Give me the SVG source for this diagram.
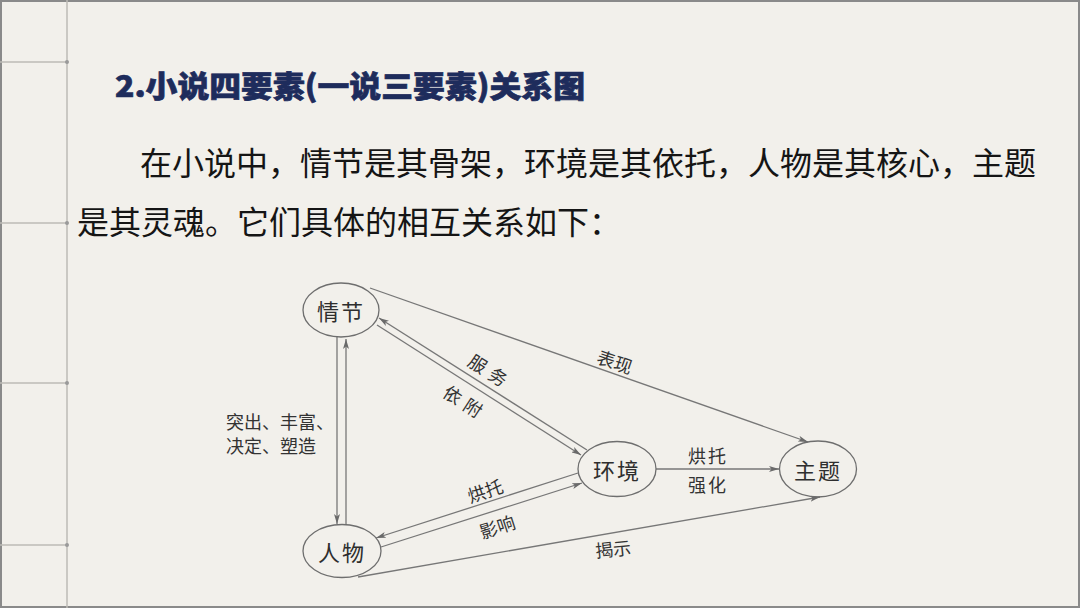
<svg xmlns="http://www.w3.org/2000/svg" width="1080" height="608" viewBox="0 0 1080 608">
<style>
.bg{fill:#f2f0eb}
.grid{stroke:#bdbbb6;stroke-width:1.5;fill:none}
.dot{fill:#9a9a9a}
.title{font-family:"Noto Sans CJK SC","Liberation Sans",sans-serif;font-weight:900;font-size:30px;fill:#1e2c5c;stroke:#1e2c5c;stroke-width:0.7}
.body{font-family:"Noto Sans CJK SC","Liberation Sans",sans-serif;font-size:32px;fill:#151515}
.node ellipse{fill:none;stroke:#6e6e6e;stroke-width:1.3}
.node text{font-family:"Noto Sans CJK SC",sans-serif;font-size:22px;fill:#2e2e2e;text-anchor:middle;dominant-baseline:central;letter-spacing:2px}
.conn line{stroke:#777;stroke-width:1.3;fill:none;marker-end:url(#ah)}
.lbl{font-family:"Noto Sans CJK SC",sans-serif;font-size:18px;fill:#333;text-anchor:middle;dominant-baseline:central}
</style>
<defs>
<marker id="ah" viewBox="0 0 10 6" refX="10" refY="3" markerWidth="10" markerHeight="6" orient="auto" markerUnits="userSpaceOnUse">
<path d="M0,0 L10,3 L0,6 L2.5,3 z" fill="#6a6a6a"/>
</marker>
</defs>
<rect class="bg" x="0" y="0" width="1080" height="608"/>
<rect x="1" y="1" width="1078" height="606" fill="none" stroke="#8a8a8a" stroke-width="2"/>
<g id="frame">
<line class="grid" x1="67" y1="0" x2="67" y2="608"/>
<line class="grid" x1="0" y1="62" x2="67" y2="62"/>
<line class="grid" x1="0" y1="223" x2="67" y2="223"/>
<line class="grid" x1="0" y1="383" x2="67" y2="383"/>
<line class="grid" x1="0" y1="545" x2="67" y2="545"/>
<circle class="dot" cx="67" cy="62" r="2"/>
<circle class="dot" cx="67" cy="223" r="2"/>
<circle class="dot" cx="67" cy="383" r="2"/>
<circle class="dot" cx="67" cy="545" r="2"/>
</g>
<text class="title" x="115" y="84" dominant-baseline="central" textLength="470" lengthAdjust="spacingAndGlyphs">2.小说四要素(一说三要素)关系图</text>
<text class="body" x="140" y="161" dominant-baseline="central">在小说中，情节是其骨架，环境是其依托，人物是其核心，主题</text>
<text class="body" x="77" y="220" dominant-baseline="central">是其灵魂。它们具体的相互关系如下：</text>

<g id="connectors" class="conn">
<line x1="337" y1="337" x2="337" y2="524"/>
<line x1="346" y1="525" x2="346" y2="339"/>
<line x1="587" y1="450" x2="379" y2="318"/>
<line x1="377" y1="325" x2="581" y2="455"/>
<line x1="370" y1="288" x2="808" y2="442"/>
<line x1="656" y1="469" x2="779" y2="469"/>
<line x1="578" y1="473" x2="376" y2="538"/>
<line x1="381" y1="547" x2="582" y2="483"/>
<line x1="358" y1="577" x2="820" y2="497"/>
</g>
<g id="labels">
<text class="lbl" x="226" y="421" style="text-anchor:start">突出、丰富、</text>
<text class="lbl" x="226" y="445" style="text-anchor:start">决定、塑造</text>
<text class="lbl" transform="translate(491,371) rotate(33)" style="letter-spacing:6px">服务</text>
<text class="lbl" transform="translate(466,402) rotate(33)" style="letter-spacing:6px">依附</text>
<text class="lbl" transform="translate(615,361) rotate(19)">表现</text>
<text class="lbl" x="708" y="455" style="letter-spacing:2px">烘托</text>
<text class="lbl" x="708" y="484" style="letter-spacing:2px">强化</text>
<text class="lbl" transform="translate(485,490) rotate(-18)">烘托</text>
<text class="lbl" transform="translate(497,526) rotate(-18)">影响</text>
<text class="lbl" transform="translate(613,548) rotate(-6)">揭示</text>
</g>
<g id="node-qingjie" class="node">
<ellipse cx="341" cy="310" rx="38" ry="27"/>
<text x="341" y="310">情节</text>
</g>
<g id="node-huanjing" class="node">
<ellipse cx="617" cy="469" rx="39" ry="27.5"/>
<text x="617" y="469">环境</text>
</g>
<g id="node-zhuti" class="node">
<ellipse cx="818" cy="469" rx="38.5" ry="28"/>
<text x="818" y="469">主题</text>
</g>
<g id="node-renwu" class="node">
<ellipse cx="342" cy="551" rx="39" ry="26.5"/>
<text x="342" y="551">人物</text>
</g>
</svg>
